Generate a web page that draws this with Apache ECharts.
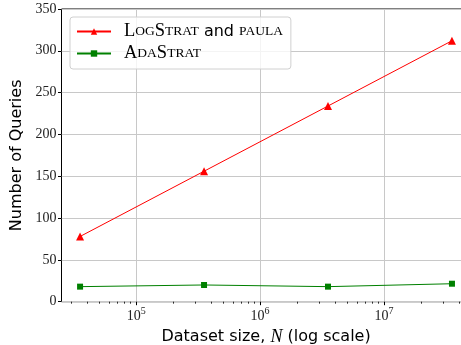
<!DOCTYPE html>
<html>
<head>
<meta charset="utf-8">
<script src="https://cdn.jsdelivr.net/npm/echarts@6/dist/echarts.min.js"></script>
<style>
  html, body { margin: 0; padding: 0; background: #fff; }
  #main { width: 461px; height: 345px; }
</style>
</head>
<body>
<div id="main"></div>
<script>
// dataset sizes N and query counts
var sizes = [35300, 353000, 3530000, 35300000]
var logStratPaula = [78, 156, 234, 312]
var adaStrat = [18, 20, 18, 21.5]
var majorTicks = [1e5, 1e6, 1e7]
var minorTicks = []
;[1e4, 1e5, 1e6, 1e7].forEach(function (d) {
  for (var k = 2; k <= 9; k++) {
    if (k * d > 25000 && k * d < 49900000) minorTicks.push(k * d)
  }
})

var serif = '"Liberation Serif", "DejaVu Serif", serif'
var sans = '"DejaVu Sans", sans-serif'

var myChart = echarts.init(document.getElementById('main'))

var option = {
  animation: false,
  backgroundColor: '#fff',
  grid: {
    left: 61.5,
    right: -9.6,
    top: 9,
    bottom: 43.3,
    outerBoundsMode: 'none',
    containLabel: false,
    show: true,
    borderColor: '#000',
    borderWidth: 1
  },
  legend: {
    left: 70,
    top: 17,
    orient: 'vertical',
    itemWidth: 34,
    itemHeight: 8,
    itemGap: 3,
    padding: [5, 8, 6, 6],
    backgroundColor: 'rgba(255,255,255,0.8)',
    borderColor: '#d0d0d0',
    borderWidth: 1,
    borderRadius: 3,
    formatter: function (name) {
      if (name === 'LogStrat and paula') {
        return '{c|L}{s|OG}{c|S}{s|TRAT}{n| and }{s|PAULA}'
      }
      return '{c|A}{s|DA}{c|S}{s|TRAT}'
    },
    textStyle: {
      color: '#000',
      padding: [0, 0, 0, 8],
      rich: {
        c: { fontFamily: serif, fontSize: 18.5, color: '#000' },
        s: { fontFamily: serif, fontSize: 13.5, color: '#000' },
        n: { fontFamily: sans, fontSize: 16, color: '#000' }
      }
    },
    data: ['LogStrat and paula', 'AdaStrat']
  },
  xAxis: {
    type: 'log',
    min: 25000,
    max: 49900000,
    name: '{t|Dataset size, }{i|N}{t| (log scale)}',
    nameLocation: 'middle',
    nameGap: 25,
    nameTextStyle: {
      rich: {
        t: { fontFamily: sans, fontSize: 16, color: '#000' },
        i: { fontFamily: serif, fontStyle: 'italic', fontSize: 18, color: '#000' }
      }
    },
    axisLine: { show: false },
    axisTick: {
      show: true,
      customValues: majorTicks,
      length: 3.5,
      inside: false,
      lineStyle: { color: '#000', width: 1 }
    },
    axisLabel: {
      customValues: majorTicks,
      margin: 5,
      formatter: function (v) {
        var e = Math.round(Math.log10(v))
        return '{b|10}{e|' + e + '}'
      },
      rich: {
        b: { fontFamily: serif, fontSize: 14, color: '#222' },
        e: { fontFamily: serif, fontSize: 10, color: '#222', padding: [0, 0, 9, 0] }
      }
    },
    splitLine: {
      show: true,
      lineStyle: { color: '#c8c8c8', width: 1 }
    }
  },
  yAxis: {
    type: 'value',
    min: 0,
    max: 350,
    interval: 50,
    name: 'Number of Queries',
    nameLocation: 'middle',
    nameGap: 36,
    nameTextStyle: { fontFamily: sans, fontSize: 16, color: '#000' },
    axisLine: { show: false },
    axisTick: { show: true, length: 3.5, lineStyle: { color: '#000' } },
    axisLabel: { fontFamily: serif, fontSize: 14, color: '#222', margin: 5 },
    splitLine: { show: true, lineStyle: { color: '#c8c8c8', width: 1 } }
  },
  series: [
    {
      name: 'LogStrat and paula',
      type: 'line',
      data: sizes.map(function (n, i) { return [n, logStratPaula[i]] }),
      symbol: 'triangle',
      symbolSize: 8,
      color: '#ff0000',
      lineStyle: { color: '#ff0000', width: 1 },
      itemStyle: { color: '#ff0000' }
    },
    {
      name: 'AdaStrat',
      type: 'line',
      data: sizes.map(function (n, i) { return [n, adaStrat[i]] }),
      symbol: 'rect',
      symbolSize: 6,
      color: '#008000',
      lineStyle: { color: '#008000', width: 1 },
      itemStyle: { color: '#008000' }
    },
    {
      // minor log ticks under the x axis
      name: 'minor',
      type: 'custom',
      silent: true,
      clip: false,
      data: minorTicks.map(function (v) { return [v, 0] }),
      renderItem: function (params, api) {
        var p = api.coord([api.value(0), 0])
        var x = Math.round(p[0]) + 0.5
        return {
          type: 'line',
          shape: { x1: x, y1: p[1], x2: x, y2: p[1] + 2 },
          style: { stroke: '#000', lineWidth: 0.8 }
        }
      }
    }
  ]
}

myChart.setOption(option)
</script>
</body>
</html>
